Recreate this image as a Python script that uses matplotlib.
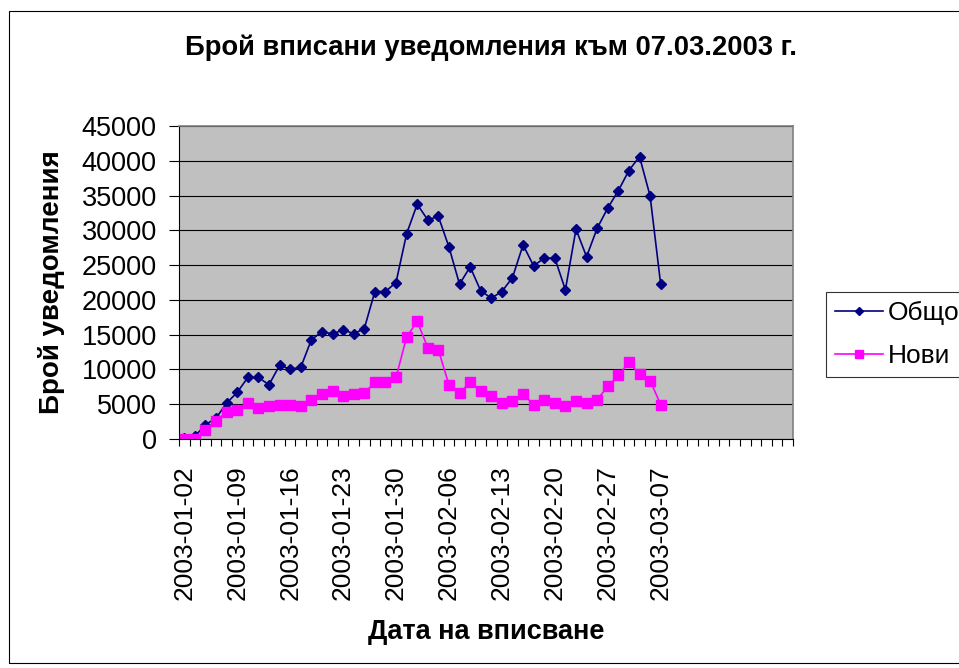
import matplotlib
matplotlib.use('Agg')
import matplotlib.pyplot as plt
import numpy as np
import pandas as pd
from matplotlib.patches import Rectangle

plt.rcParams['font.family'] = ['Liberation Sans', 'DejaVu Sans']

# Working days (2003-03-03 is a national holiday, so it is skipped)
dates = pd.bdate_range('2003-01-02', '2003-03-07', freq='C', holidays=['2003-03-03'])
date_labels = [d.strftime('%Y-%m-%d') for d in dates]
n_categories = 58  # the chart range keeps empty rows after the last date

total = [100, 400, 2050, 3000, 5170, 6700, 8850, 8850, 7800, 10580,
         10050, 10300, 14250, 15450, 15100, 15700, 15150, 15850, 21200, 21200,
         22500, 29500, 33750, 31500, 32000, 27600, 22250, 24750, 21300, 20250,
         21200, 23200, 27900, 24900, 26000, 26000, 21450, 30150, 26200, 30300,
         33200, 35700, 38600, 40600, 34950, 22250]
new = [50, 50, 1250, 2550, 3950, 4200, 5150, 4450, 4700, 4950,
       4950, 4700, 5650, 6450, 6950, 6200, 6450, 6600, 8150, 8150,
       8850, 14650, 16900, 13150, 12800, 7800, 6600, 8150, 6950, 6200,
       5150, 5400, 6450, 4950, 5650, 5150, 4700, 5500, 5150, 5650,
       7550, 9150, 11000, 9300, 8400, 4950]

x = np.arange(len(date_labels))

fig = plt.figure(figsize=(9.59, 6.68), dpi=100)
ax = fig.add_axes([179 / 959, 1 - 439 / 668, (793 - 179) / 959, (439 - 126) / 668])
ax.set_facecolor('#C0C0C0')

ax.plot(x, total, color='#000080', lw=1.2, marker='D', ms=5.6, label='Общо')
ax.plot(x, new, color='#FF00FF', lw=1.2, marker='s', ms=7, label='Нови')

ax.set_xlim(-0.5, n_categories - 0.5)
ax.set_ylim(0, 45000)
ax.set_yticks(np.arange(0, 45001, 5000))
ax.yaxis.grid(True, color='black', lw=0.8)
ax.set_axisbelow(True)

ax.set_xticks(x[::5])
ax.set_xticklabels(date_labels[::5], rotation=90, fontsize=19)
ax.set_xticks(np.arange(-0.5, n_categories), minor=True)
ax.tick_params(axis='x', which='major', length=0, pad=19)
ax.tick_params(axis='x', which='minor', length=5, width=0.8, color='black')
ax.tick_params(axis='y', labelsize=19.5, length=7, width=0.8, pad=9)

for s in ['top', 'right']:
    ax.spines[s].set_color('#808080')
    ax.spines[s].set_linewidth(1.2)
for s in ['left', 'bottom']:
    ax.spines[s].set_color('black')
    ax.spines[s].set_linewidth(0.8)

fig.text(491 / 959, 1 - 48 / 668, 'Брой вписани уведомления към 07.03.2003 г.',
         ha='center', va='center', fontsize=19.7, fontweight='bold')
ax.set_ylabel('Брой уведомления', fontsize=20, fontweight='bold', labelpad=12)
fig.text(486 / 959, 1 - 632 / 668, 'Дата на вписване',
         ha='center', va='center', fontsize=19.5, fontweight='bold')

leg = fig.legend(loc='upper left', bbox_to_anchor=(826 / 959, 1 - 292 / 668),
                 fontsize=19, frameon=True, fancybox=False, handlelength=1.8,
                 handletextpad=0.2, borderpad=0.35, labelspacing=0.7,
                 borderaxespad=0, markerscale=0.8)
leg.get_frame().set_edgecolor('black')
leg.get_frame().set_linewidth(0.8)

fig.patches.append(Rectangle((9 / 959, 1 - 663 / 668), 1.0, (663 - 11) / 668,
                             transform=fig.transFigure, fill=False,
                             edgecolor='black', lw=0.8))

fig.savefig('out.png', dpi=100)
